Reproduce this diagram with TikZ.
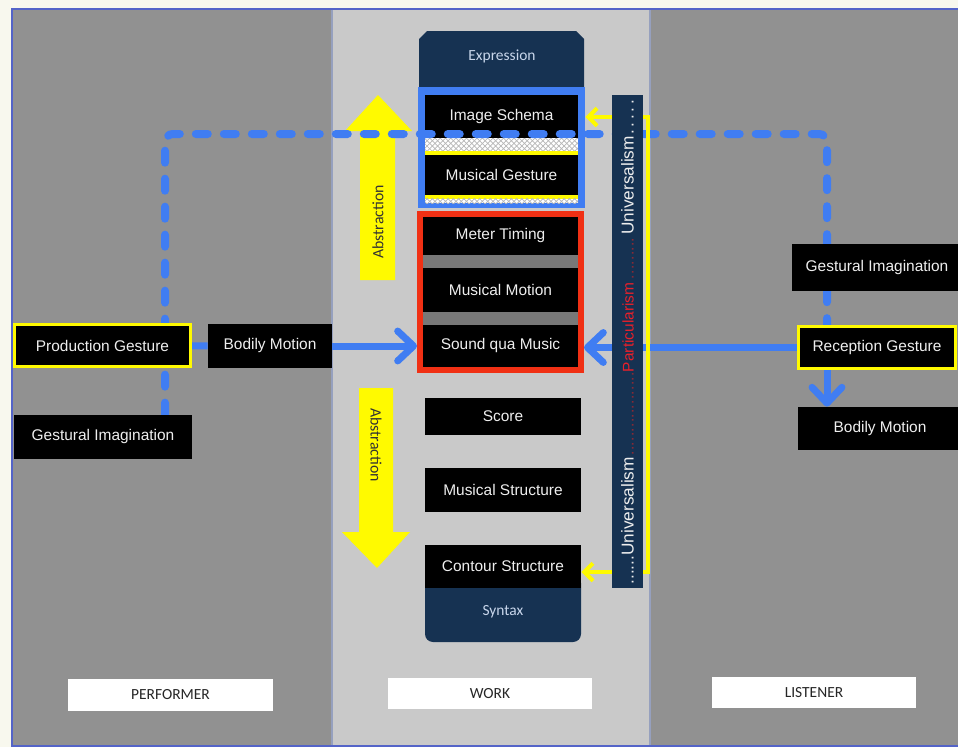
\documentclass[tikz,border=0pt]{standalone}
\usepackage{fontspec}
\setmainfont{Liberation Sans}
\newfontfamily\calib{Carlito}
\usetikzlibrary{arrows.meta,patterns}

\definecolor{pagecream}{RGB}{248,248,238}
\definecolor{framebl}{RGB}{84,100,200}
\definecolor{divider}{RGB}{150,160,190}
\definecolor{sidegray}{RGB}{145,145,145}
\definecolor{midgray}{RGB}{201,201,201}
\definecolor{navy}{RGB}{22,50,82}
\definecolor{linkblue}{RGB}{64,125,242}
\definecolor{boxred}{RGB}{240,48,20}
\definecolor{hiyellow}{RGB}{255,250,0}
\definecolor{stripgray}{RGB}{120,120,120}
\definecolor{labelwhite}{RGB}{238,238,238}
\definecolor{exprtext}{RGB}{200,214,235}
\definecolor{dotred}{RGB}{150,40,50}
\definecolor{partred}{RGB}{232,32,42}

\pgfdeclarelayer{lines}
\pgfdeclarelayer{front}
\pgfsetlayers{main,lines,front}

% box given by its corners in pixel units: name, x1, y1, x2, y2, style, text
\newcommand\pxbox[7]{%
  \node[#6, minimum width={(#4-#2)*0.02cm}, minimum height={(#5-#3)*0.02cm}]
    (#1) at ({(#2+#4)/2},{(#3+#5)/2}) {#7};}

% dotted leaders with a given stretch
\newcommand\udots[1]{\leaders\hbox to 0.3em{\hss.\hss}\hskip 0pt plus #1fil\relax}
% widely spaced trailing dots
\newcommand\widedot{\hbox to 0.15cm{\hss.\hss}}
\newcommand\unifont{\fontsize{9.8}{11}\selectfont}

\tikzset{
  labelfont/.style={font=\fontsize{8.8}{10}\selectfont},
  blackbox/.style={fill=black, text=labelwhite, inner sep=0pt, labelfont},
  yellowbox/.style={blackbox, draw=hiyellow, line width=0.06cm},
  flatbox/.style={inner sep=0pt},
  hatchbox/.style={inner sep=0pt, preaction={fill=white}, pattern=crosshatch, pattern color=black!28},
  tag/.style={fill=white, inner sep=0pt, text=black!85, font=\calib\fontsize{8.8}{10}\selectfont},
  navytext/.style={text=exprtext, font=\calib\fontsize{8.8}{10}\selectfont},
  abstext/.style={text=black!80, font=\calib\fontsize{9}{10}\selectfont},
  link/.style={draw=linkblue, line width=0.14cm},
  linkhead/.style={-{Straight Barb[round,length=9pt,width=17pt]}},
  dashlink/.style={draw=linkblue, line width=0.16cm, line cap=round,
                   dash pattern=on 0.24cm off 0.32cm, rounded corners=0.16cm},
  yellowlink/.style={draw=hiyellow, line width=0.08cm},
  yellowheads/.style={{Straight Barb[length=5pt,width=10pt]}-{Straight Barb[length=5pt,width=10pt]}},
}

\begin{document}
\begin{tikzpicture}[x=0.02cm, y=-0.02cm]
\useasboundingbox (0,0) rectangle (958,747);
\clip (0,0) rectangle (958,747);

% page and the three panels
\fill[pagecream] (0,0) rectangle (958,747);
\fill[sidegray] (12,9) rectangle (332,746);
\fill[midgray] (332,9) rectangle (650,746);
\fill[sidegray] (650,9) rectangle (962,746);
\draw[divider, line width=0.03cm] (332,9) -- (332,746);
\draw[divider, line width=0.03cm] (650,9) -- (650,746);
\draw[framebl, line width=0.06cm] (12,9) rectangle (962,746);

% abstraction arrows
\fill[hiyellow] (360,280) -- (360,131) -- (345,131) -- (378,95) -- (412,131)
  -- (395,131) -- (395,280) -- cycle;
\fill[hiyellow] (359,388) -- (359,532) -- (342,532) -- (377,568) -- (410,532)
  -- (393,532) -- (393,388) -- cycle;
\node[abstext, rotate=90] (absup) at (378,222) {Abstraction};
\node[abstext, rotate=-90] (absdown) at (376,445) {Abstraction};

% work column
\fill[navy] (419,92) -- (419,39) -- (427,31) -- (576,31) -- (584,39) -- (584,92) -- cycle;
\node[navytext] (expr) at (502,56) {Expression};

\pxbox{schema}{418}{87}{585}{208}{flatbox, fill=linkblue}{}
\pxbox{imgschema}{425}{95}{578}{138}{blackbox}{Image Schema}
\pxbox{hatchA}{425}{138}{578}{151}{hatchbox}{}
\pxbox{stripA}{425}{151}{578}{155}{flatbox, fill=hiyellow}{}
\pxbox{musgest}{425}{155}{578}{195}{blackbox}{Musical Gesture}
\pxbox{stripB}{425}{195}{578}{198.5}{flatbox, fill=hiyellow}{}
\pxbox{hatchB}{425}{198.5}{578}{203}{hatchbox}{}

\pxbox{motion}{420}{214}{581}{370}{flatbox, fill=stripgray, draw=boxred, line width=0.12cm}{}
\pxbox{meter}{423}{217}{578}{255}{blackbox}{Meter Timing}
\pxbox{musmotion}{423}{268}{578}{312}{blackbox}{Musical Motion}
\pxbox{soundqua}{423}{325}{578}{367}{blackbox}{Sound qua Music}

\pxbox{score}{425}{398}{581}{435}{blackbox}{Score}
\pxbox{musstruct}{425}{468}{581}{512}{blackbox}{Musical Structure}
\fill[navy, rounded corners=0.16cm] (425,575) -- (425,642) -- (581,642) -- (581,575) -- cycle;
\pxbox{contour}{425}{545}{581}{588}{blackbox}{Contour Structure}
\node[navytext] (syntax) at (503,612) {Syntax};

% performer and listener boxes
\begin{pgfonlayer}{front}
\pxbox{prodgest}{14.5}{324.5}{190.5}{366.5}{yellowbox}{Production Gesture}
\pxbox{bodyleft}{208}{324}{332}{368}{blackbox}{Bodily Motion}
\pxbox{imagleft}{14}{415}{192}{459}{blackbox}{Gestural Imagination}
\pxbox{imagright}{792}{244}{962}{291}{blackbox}{Gestural Imagination}
\pxbox{recgest}{798.5}{326.5}{955.5}{368.5}{yellowbox}{Reception Gesture}
\pxbox{bodyright}{798}{407}{962}{450}{blackbox}{Bodily Motion}

% universalism / particularism bar
\pxbox{ubar}{612}{95}{643}{588}{flatbox, fill=navy}{}
\node[rotate=90, inner sep=0pt, text=labelwhite, labelfont] (utext) at (ubar.center)
  {\makebox[9.76cm]{{\unifont......Universalism}\textcolor{dotred}{\udots{78}}%
   \textcolor{partred}{Particularism}\textcolor{dotred}{\udots{44}}%
   {\unifont Universalism\widedot\widedot\widedot\widedot\widedot}}};
\end{pgfonlayer}

\coordinate (dl) at (165,134);
\coordinate (dr) at (827,134);
\coordinate (ytop) at (648,117);
\coordinate (ybot) at (648,572);

% connectors
\begin{pgfonlayer}{lines}
\draw[dashlink] (imagleft.north -| dl) -- (dl) -- (dr) -- (recgest.north -| dr);
\draw[link] (prodgest) -- (bodyleft);
\draw[link, linkhead] (bodyleft.east) -- (bodyleft.east -| motion.west);
\draw[link, linkhead] (recgest.west) -- (recgest.west -| motion.east);
\draw[link, linkhead] (recgest.south -| dr) -- (bodyright.north -| dr);
\draw[yellowlink, yellowheads] (schema.east |- ytop) -- (ytop) -- (ybot) -- (contour.east |- ybot);
\end{pgfonlayer}

% role labels
\pxbox{performer}{68}{679}{273}{711}{tag}{PERFORMER}
\pxbox{work}{388}{678}{592}{709}{tag}{WORK}
\pxbox{listener}{712}{677}{916}{708}{tag}{LISTENER}
\end{tikzpicture}
\end{document}
